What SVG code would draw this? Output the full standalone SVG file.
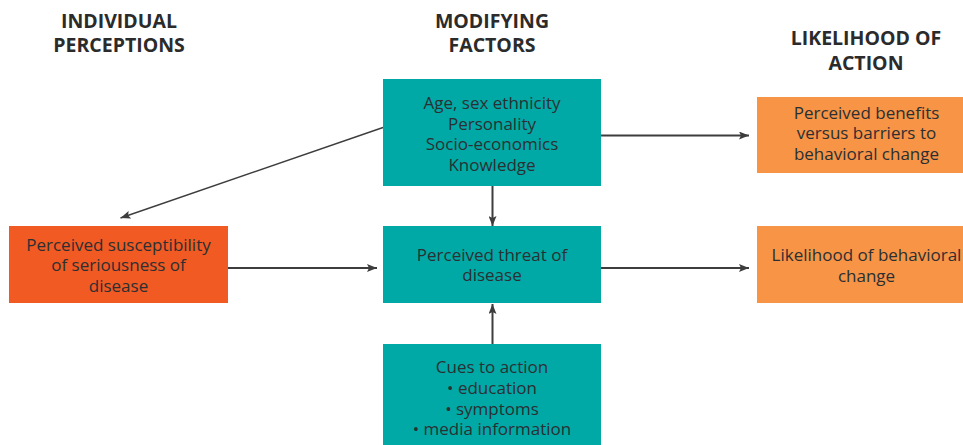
<svg xmlns="http://www.w3.org/2000/svg" width="963" height="445" viewBox="0 0 963 445">
  <style>
    .head { font-family: "Open Sans", "Liberation Sans", sans-serif; font-weight: 700; font-size: 19.5px; fill: #2b2b2b; text-anchor: middle; }
    .label { font-family: "Open Sans", "Liberation Sans", sans-serif; font-size: 17px; fill: #2b2f33; text-anchor: middle; }
    .teal { fill: #00a9a5; }
    .red { fill: #f15a22; }
    .amber { fill: #f79446; }
    .link { stroke: #3d3d3d; stroke-width: 2; fill: none; marker-end: url(#arrow); }
    .thin { stroke-width: 1.4; }
  </style>
  <defs>
    <marker id="arrow" viewBox="0 0 10 8" refX="10" refY="4" markerWidth="10" markerHeight="8" markerUnits="userSpaceOnUse" orient="auto">
      <path d="M0,0 L10,4 L0,8 L2,4 Z" fill="#3d3d3d"/>
    </marker>
  </defs>

  <rect width="963" height="445" fill="#ffffff"/>

  <!-- column headings -->
  <g id="heading-individual">
    <text class="head" x="119" y="27.5">INDIVIDUAL</text>
    <text class="head" x="119" y="51.5">PERCEPTIONS</text>
  </g>
  <g id="heading-modifying">
    <text class="head" x="492" y="27.5">MODIFYING</text>
    <text class="head" x="492" y="51.5">FACTORS</text>
  </g>
  <g id="heading-likelihood">
    <text class="head" x="866" y="45">LIKELIHOOD OF</text>
    <text class="head" x="866" y="70">ACTION</text>
  </g>

  <!-- connectors -->
  <g id="connectors">
    <line class="link thin" x1="383" y1="127.5" x2="120.5" y2="218"/>
    <line class="link" x1="492.5" y1="186" x2="492.5" y2="226"/>
    <line class="link" x1="492.5" y1="344" x2="492.5" y2="304"/>
    <line class="link" x1="228" y1="268" x2="377" y2="268"/>
    <line class="link" x1="601" y1="268" x2="749" y2="268"/>
    <line class="link" x1="601" y1="135.5" x2="749" y2="135.5"/>
  </g>

  <!-- nodes -->
  <g id="modifying-factors">
    <rect class="teal" x="383" y="79" width="218" height="107"/>
    <text class="label" x="492" y="109">Age, sex ethnicity</text>
    <text class="label" x="492" y="129.5">Personality</text>
    <text class="label" x="492" y="150">Socio-economics</text>
    <text class="label" x="492" y="170.5">Knowledge</text>
  </g>

  <g id="perceived-susceptibility">
    <rect class="red" x="9" y="226" width="219" height="77"/>
    <text class="label" x="118.5" y="250.5">Perceived susceptibility</text>
    <text class="label" x="118.5" y="271">of seriousness of</text>
    <text class="label" x="118.5" y="291.5">disease</text>
  </g>

  <g id="perceived-threat">
    <rect class="teal" x="383" y="226" width="218" height="77"/>
    <text class="label" x="492" y="260.5">Perceived threat of</text>
    <text class="label" x="492" y="281">disease</text>
  </g>

  <g id="cues-to-action">
    <rect class="teal" x="383" y="344" width="218" height="101"/>
    <text class="label" x="492" y="373">Cues to action</text>
    <text class="label" x="492" y="394">• education</text>
    <text class="label" x="492" y="414.5">• symptoms</text>
    <text class="label" x="492" y="435">• media information</text>
  </g>

  <g id="perceived-benefits">
    <rect class="amber" x="757" y="97" width="206" height="76"/>
    <text class="label" x="866.5" y="118.5">Perceived benefits</text>
    <text class="label" x="866.5" y="139">versus barriers to</text>
    <text class="label" x="866.5" y="159.5">behavioral change</text>
  </g>

  <g id="behavioral-change">
    <rect class="amber" x="757" y="226" width="206" height="77"/>
    <text class="label" x="866.5" y="261">Likelihood of behavioral</text>
    <text class="label" x="866.5" y="281.5">change</text>
  </g>
</svg>
